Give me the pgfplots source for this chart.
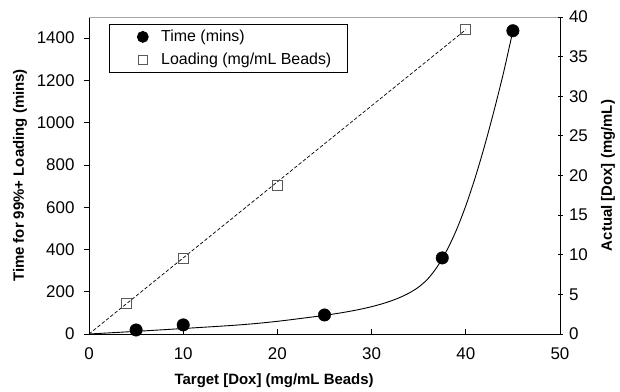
\documentclass[border=0pt]{standalone}
\usepackage{pgfplots}
\pgfplotsset{compat=1.18}
\usepackage{fontspec}
\setmainfont{Liberation Sans}

\begin{document}
\begin{tikzpicture}
\pgfplotsset{
  base/.style={
    scale only axis, width=471bp, height=317bp,
    xmin=0, xmax=50,
    /pgf/number format/assume math mode=true,
    /pgf/number format/1000 sep={},
    tick label style={font=\fontsize{17}{20}\selectfont, text=black},
    label style={font=\bfseries\fontsize{15}{18}\selectfont},
    major tick length=5bp,
    tick style={black, line width=0.8bp},
    axis line style={black, line width=0.8bp},
  }
}
\begin{axis}[base,
  ymin=0, ymax=1500,
  axis x line*=bottom, axis y line*=left,
  xtick={0,10,...,50}, ytick={0,200,...,1400},
  tick align=outside,
  xtick style={yshift=5bp},
  xticklabel style={yshift=-5bp},
  yticklabel style={xshift=-6bp},
  xlabel={Target [Dox] (mg/mL Beads)},
  ylabel={Time for 99\%+ Loading (mins)},
  xlabel style={at={(axis description cs:0.393,-0.148)}, anchor=center},
  ylabel style={at={(axis description cs:-0.1465,0.5)}, anchor=center},
  clip=false,
]
\draw[gray!70, line width=0.8bp] (axis cs:0,1500) -- (axis cs:50,1500);
% smooth trend curve
\addplot[black, line width=0.9bp, smooth, forget plot] coordinates {
  (0,0) (5,12.5) (10,26) (15,40) (17.5,48.7) (20,60) (22.5,73.7) (25,88)
  (26,94.8) (27,102) (28,110) (29,119) (30,129.3) (31,141.3) (32,155.5)
  (33,172.8) (34,194.3) (35,222.3) (36,262.3) (37,320.3) (38,396.8)
  (39,491.8) (40,606.8) (41,740.3) (42,891.3) (43,1057.3) (44,1235.8) (45,1435)
};
\addplot[only marks, mark=*, mark size=6.25bp, black, forget plot] coordinates {
  (5,19) (10,43) (25,90) (37.5,360) (45,1435)
};
\end{axis}
\begin{axis}[base,
  ymin=0, ymax=40,
  axis y line*=right, axis x line=none,
  ytick={0,5,...,40},
  tick align=center,
  yticklabel style={xshift=3bp},
  ylabel={Actual [Dox] (mg/mL)},
  ylabel style={at={(axis description cs:1.102,0.5)}, anchor=center},
  legend style={at={(0.0425,0.978)}, anchor=north west, draw=black,
    line width=0.8bp, font=\fontsize{16}{19}\selectfont,
    inner xsep=14bp, inner ysep=4bp, row sep=5.5bp,
    nodes={inner sep=2bp}},
  legend cell align=left,
  legend image code/.code={\path (-19bp,0bp) (16bp,0bp); \draw[#1] plot coordinates {(0bp,0bp)};},
]
\addlegendimage{only marks, mark=*, mark size=5.5bp, black}
\addlegendentry{Time (mins)}
\addplot[black, line width=0.7bp, dash pattern=on 3.5bp off 2bp, forget plot] coordinates {(0,0) (40,38.4)};
\addplot[only marks, mark=square, mark size=5bp, draw=black!65, line width=0.8bp,
  legend image post style={mark size=4.5bp}] coordinates {
  (4,3.9) (10,9.5) (20,18.8) (40,38.4)
};
\addlegendentry{Loading (mg/mL Beads)}
\end{axis}
\path (-89bp,-53bp) rectangle (531bp,334bp);
\end{tikzpicture}
\end{document}
